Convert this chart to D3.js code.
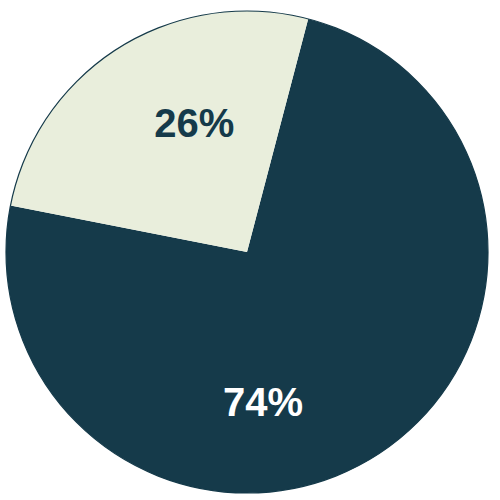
<!DOCTYPE html>
<html>
<head>
<meta charset="utf-8">
<script src="https://cdn.jsdelivr.net/npm/d3@7"></script>
<style>
  body { margin: 0; background: #fff; }
  svg { display: block; }
</style>
</head>
<body>
<svg id="chart" width="500" height="500"></svg>
<script>
// data
var categories = ["A", "B"];
var values = [74, 26];
var labels = ["74%", "26%"];
var colors = ["#153a4a", "#e9eedc"];
var textColors = ["#ffffff", "#153a4a"];

var width = 500,
    height = 500,
    cx = 247,
    cy = 252,
    radius = 241,
    startDeg = 14.7; // first slice starts a little right of 12 o'clock

// label placement (angle offset from slice middle in deg, distance from centre)
var labelShift = [26, 10],
    labelDist = [150, 140];

var svg = d3.select("#chart");

var pie = d3.pie()
    .sort(null)
    .value(d => d)
    .startAngle(startDeg * Math.PI / 180)
    .endAngle((startDeg + 360) * Math.PI / 180);

var arcs = pie(values);

var arc = d3.arc()
    .innerRadius(0)
    .outerRadius(radius);

var g = svg.append("g")
    .attr("transform", "translate(" + cx + "," + cy + ")");

g.selectAll("path")
    .data(arcs)
    .join("path")
    .attr("d", arc)
    .attr("fill", (d, i) => colors[i])
    .attr("stroke", "none");

// thin outline round the whole pie
g.append("circle")
    .attr("r", radius)
    .attr("fill", "none")
    .attr("stroke", colors[0])
    .attr("stroke-width", 1.2);

g.selectAll("text")
    .data(arcs)
    .join("text")
    .attr("x", (d, i) => {
        var a = (d.startAngle + d.endAngle) / 2 + labelShift[i] * Math.PI / 180;
        return Math.sin(a) * labelDist[i];
    })
    .attr("y", (d, i) => {
        var a = (d.startAngle + d.endAngle) / 2 + labelShift[i] * Math.PI / 180;
        return -Math.cos(a) * labelDist[i];
    })
    .attr("dy", "0.36em")
    .attr("text-anchor", "middle")
    .attr("font-family", "Liberation Sans, Arial, sans-serif")
    .attr("font-weight", "bold")
    .attr("font-size", 40)
    .attr("fill", (d, i) => textColors[i])
    .text((d, i) => labels[i]);
</script>
</body>
</html>
